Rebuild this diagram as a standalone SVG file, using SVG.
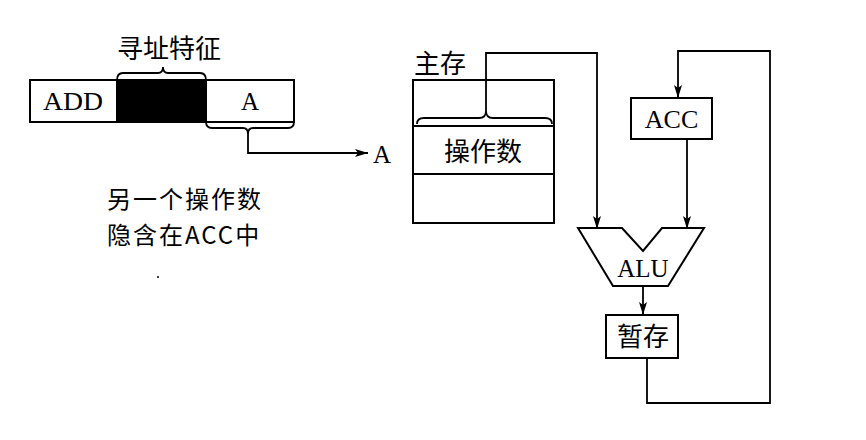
<svg xmlns="http://www.w3.org/2000/svg" width="866" height="440" viewBox="0 0 866 440">
<defs>
<marker id="arr" markerWidth="14" markerHeight="10" refX="13" refY="5" orient="auto" markerUnits="userSpaceOnUse">
<path d="M0,1 L13,5 L0,9 L3,5 Z" fill="#000"/>
</marker>
<style>
.box{fill:#fff;stroke:#000;stroke-width:2}
.ln{fill:none;stroke:#000;stroke-width:1.8}
.lat{font-family:"Liberation Serif",serif;font-size:25px;fill:#000}
.cjk{font-family:"Noto Sans CJK SC","Noto Sans CJK JP",sans-serif;font-size:26px;fill:#000}
.note{font-family:"Noto Sans CJK SC","Noto Sans CJK JP",sans-serif;font-size:24px;letter-spacing:2px;fill:#000}
</style>
</defs>
<rect width="866" height="440" fill="#fff"/>

<g id="instruction">
<rect class="box" x="30" y="80" width="264" height="42"/>
<rect x="117" y="80" width="89" height="42" fill="#000" stroke="#000" stroke-width="2"/>
<text class="lat" x="73" y="110" text-anchor="middle" textLength="60" lengthAdjust="spacingAndGlyphs">ADD</text>
<text class="lat" x="250" y="110" text-anchor="middle">A</text>
</g>

<g id="label-addr">
<text class="cjk" x="169" y="58" text-anchor="middle">寻址特征</text>
</g>

<g id="note">
<text class="note" x="107" y="208">另一个操作数</text>
<text class="note" x="107" y="244">隐含在ACC中</text>
<circle cx="158" cy="277" r="1" fill="#000"/>
</g>

<g id="addr-A">
<text class="lat" x="373" y="163">A</text>
</g>

<g id="memory">
<text class="cjk" x="414" y="73">主存</text>
<rect class="box" x="413" y="80" width="141" height="143"/>
<line class="ln" x1="413" y1="126" x2="554" y2="126" style="stroke-width:2"/>
<line class="ln" x1="413" y1="174" x2="554" y2="174" style="stroke-width:2"/>
<text class="cjk" x="483" y="161" text-anchor="middle">操作数</text>
</g>

<g id="acc">
<rect class="box" x="631" y="98" width="81" height="41"/>
<text class="lat" x="671.5" y="128" text-anchor="middle" style="font-size:26px">ACC</text>
</g>

<g id="alu">
<path class="box" d="M578,228 L622,228 L643,251 L662,228 L704,228 L668,286 L613,286 Z"/>
<text class="lat" x="643" y="277" text-anchor="middle">ALU</text>
</g>

<g id="temp">
<rect class="box" x="606" y="315" width="72" height="43"/>
<text class="cjk" x="643" y="346" text-anchor="middle">暂存</text>
</g>

<g id="connectors">
<path class="ln" d="M117,80 Q117,73 123,73 L158,73 Q163,73 163,67 Q163,73 168,73 L200,73 Q206,73 206,80"/>
<path class="ln" d="M206,122 Q206,128 212,128 L243,128 Q248,128 248,134 Q248,128 253,128 L288,128 Q294,128 294,122"/>
<path class="ln" d="M248,134 L248,153 L368,153" marker-end="url(#arr)"/>
<path class="ln" d="M417,124 Q417,118 424,118 L479,118 Q486,118 486,111 Q486,118 493,118 L545,118 Q552,118 552,124"/>
<path class="ln" d="M486,111 L486,53 L597,53 L597,229" marker-end="url(#arr)"/>
<path class="ln" d="M687,139 L687,229" marker-end="url(#arr)"/>
<path class="ln" d="M643,286 L643,315" marker-end="url(#arr)"/>
<path class="ln" d="M647,358 L647,403 L770,403 L770,51 L678,51 L678,98" marker-end="url(#arr)"/>
</g>
</svg>
